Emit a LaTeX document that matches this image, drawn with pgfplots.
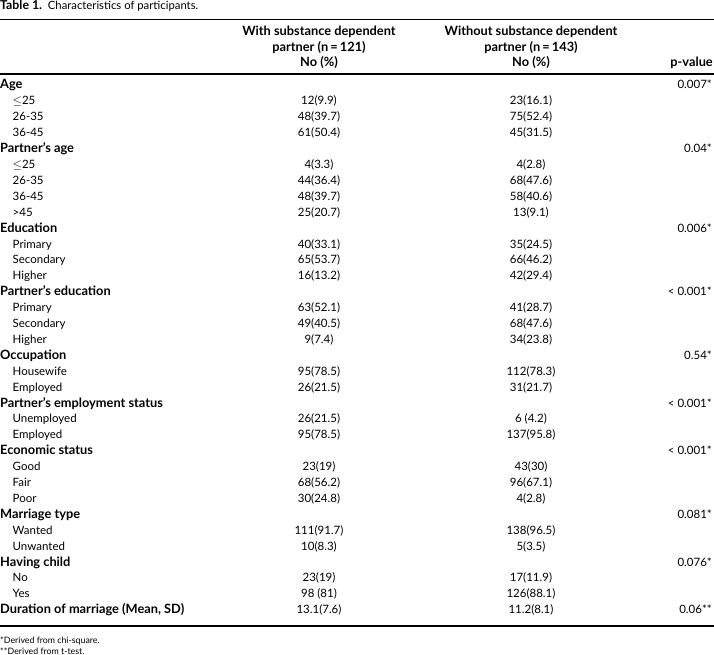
\documentclass[border=0pt]{standalone}
\usepackage{pgfplots}
\pgfplotsset{compat=1.18}
\usepackage{fontspec}
\setmainfont{Lato}
\newcommand{\bodyfont}{\fontsize{11.5}{13}\selectfont}
\newcommand{\boldfont}{\fontsize{12.8}{14}\selectfont\bfseries}
\newcommand{\titlebold}{\fontsize{12.3}{14}\selectfont\bfseries}
\newcommand{\titlefont}{\fontsize{11.3}{13}\selectfont}
\newcommand{\smallfont}{\fontsize{8.8}{10}\selectfont}
\begin{document}
\begin{tikzpicture}
\begin{axis}[
  scale only axis, width=714pt, height=655pt,
  xmin=0, xmax=714, ymin=0, ymax=655, y dir=reverse,
  hide axis, clip=false,
  point meta=explicit symbolic,
  every node near coord/.append style={inner sep=0pt, text=black, font=\bodyfont},
]
% row headings (bold)
\addplot[only marks, mark=none, nodes near coords,
  every node near coord/.append style={anchor=base west, font=\boldfont}] coordinates {
 (0,89) [Age]
 (0,152.6) [Partner's age]
 (0,232.1) [Education]
 (0,295.7) [Partner's education]
 (0,359.3) [Occupation]
 (0,407) [Partner's employment status]
 (0,454.7) [Economic status]
 (0,518.3) [Marriage type]
 (0,566) [Having child]
 (0,613.7) [Duration of marriage (Mean, SD)]
};
% sub-items
\addplot[only marks, mark=none, nodes near coords,
  every node near coord/.append style={anchor=base west}] coordinates {
 (12.5,104.9) [$\leq$25]
 (12.5,120.8) [26-35]
 (12.5,136.7) [36-45]
 (12.5,168.5) [$\leq$25]
 (12.5,184.4) [26-35]
 (12.5,200.3) [36-45]
 (12.5,216.2) [>45]
 (12.5,248) [Primary]
 (12.5,263.9) [Secondary]
 (12.5,279.8) [Higher]
 (12.5,311.6) [Primary]
 (12.5,327.5) [Secondary]
 (12.5,343.4) [Higher]
 (12.5,375.2) [Housewife]
 (12.5,391.1) [Employed]
 (12.5,422.9) [Unemployed]
 (12.5,438.8) [Employed]
 (12.5,470.6) [Good]
 (12.5,486.5) [Fair]
 (12.5,502.4) [Poor]
 (12.5,534.2) [Wanted]
 (12.5,550.1) [Unwanted]
 (12.5,581.9) [No]
 (12.5,597.8) [Yes]
};
% with substance dependent partner
\addplot[only marks, mark=none, nodes near coords,
  every node near coord/.append style={anchor=base}] coordinates {
 (319,104.9) [12(9.9)]
 (319,120.8) [48(39.7)]
 (319,136.7) [61(50.4)]
 (319,168.5) [4(3.3)]
 (319,184.4) [44(36.4)]
 (319,200.3) [48(39.7)]
 (319,216.2) [25(20.7)]
 (319,248) [40(33.1)]
 (319,263.9) [65(53.7)]
 (319,279.8) [16(13.2)]
 (319,311.6) [63(52.1)]
 (319,327.5) [49(40.5)]
 (319,343.4) [9(7.4)]
 (319,375.2) [95(78.5)]
 (319,391.1) [26(21.5)]
 (319,422.9) [26(21.5)]
 (319,438.8) [95(78.5)]
 (319,470.6) [23(19)]
 (319,486.5) [68(56.2)]
 (319,502.4) [30(24.8)]
 (319,534.2) [111(91.7)]
 (319,550.1) [10(8.3)]
 (319,581.9) [23(19)]
 (319,597.8) [98 (81)]
 (319,613.7) [13.1(7.6)]
};
% without substance dependent partner
\addplot[only marks, mark=none, nodes near coords,
  every node near coord/.append style={anchor=base}] coordinates {
 (531,104.9) [23(16.1)]
 (531,120.8) [75(52.4)]
 (531,136.7) [45(31.5)]
 (531,168.5) [4(2.8)]
 (531,184.4) [68(47.6)]
 (531,200.3) [58(40.6)]
 (531,216.2) [13(9.1)]
 (531,248) [35(24.5)]
 (531,263.9) [66(46.2)]
 (531,279.8) [42(29.4)]
 (531,311.6) [41(28.7)]
 (531,327.5) [68(47.6)]
 (531,343.4) [34(23.8)]
 (531,375.2) [112(78.3)]
 (531,391.1) [31(21.7)]
 (531,422.9) [6 (4.2)]
 (531,438.8) [137(95.8)]
 (531,470.6) [43(30)]
 (531,486.5) [96(67.1)]
 (531,502.4) [4(2.8)]
 (531,534.2) [138(96.5)]
 (531,550.1) [5(3.5)]
 (531,581.9) [17(11.9)]
 (531,597.8) [126(88.1)]
 (531,613.7) [11.2(8.1)]
};
% p-values
\addplot[only marks, mark=none, nodes near coords,
  every node near coord/.append style={anchor=base east}] coordinates {
 (712,89) [0.007*]
 (712,152.6) [0.04*]
 (712,232.1) [0.006*]
 (712,295.7) [< 0.001*]
 (712,359.3) [0.54*]
 (712,407) [< 0.001*]
 (712,454.7) [< 0.001*]
 (712,518.3) [0.081*]
 (712,566) [0.076*]
 (712,613.7) [0.06**]
};
% title, header, rules, footnotes
\node[anchor=base west, inner sep=0pt, font=\titlefont] at (axis cs:0,10) {{\titlebold Table 1.}\ \ Characteristics of participants.};
\draw[line width=1.1pt] (axis cs:0,19.5) -- (axis cs:714,19.5);
\node[anchor=base, inner sep=0pt, font=\boldfont] at (axis cs:319,36) {With substance dependent};
\node[anchor=base, inner sep=0pt, font=\boldfont] at (axis cs:319,51.5) {partner (n\,=\,121)};
\node[anchor=base, inner sep=0pt, font=\boldfont] at (axis cs:319,67) {No (\%)};
\node[anchor=base, inner sep=0pt, font=\boldfont] at (axis cs:531,36) {Without substance dependent};
\node[anchor=base, inner sep=0pt, font=\boldfont] at (axis cs:531,51.5) {partner (n\,=\,143)};
\node[anchor=base, inner sep=0pt, font=\boldfont] at (axis cs:531,67) {No (\%)};
\node[anchor=base east, inner sep=0pt, font=\boldfont] at (axis cs:713,67) {p-value};
\draw[line width=1.1pt] (axis cs:0,74) -- (axis cs:714,74);
\draw[line width=1.1pt] (axis cs:0,626) -- (axis cs:714,626);
\node[anchor=base west, inner sep=0pt, font=\smallfont] at (axis cs:0,643.5) {*Derived from chi-square.};
\node[anchor=base west, inner sep=0pt, font=\smallfont] at (axis cs:0,654) {**Derived from t-test.};
\end{axis}
\pgfresetboundingbox
\path (0,0) rectangle (714pt,655pt);
\end{tikzpicture}
\end{document}
